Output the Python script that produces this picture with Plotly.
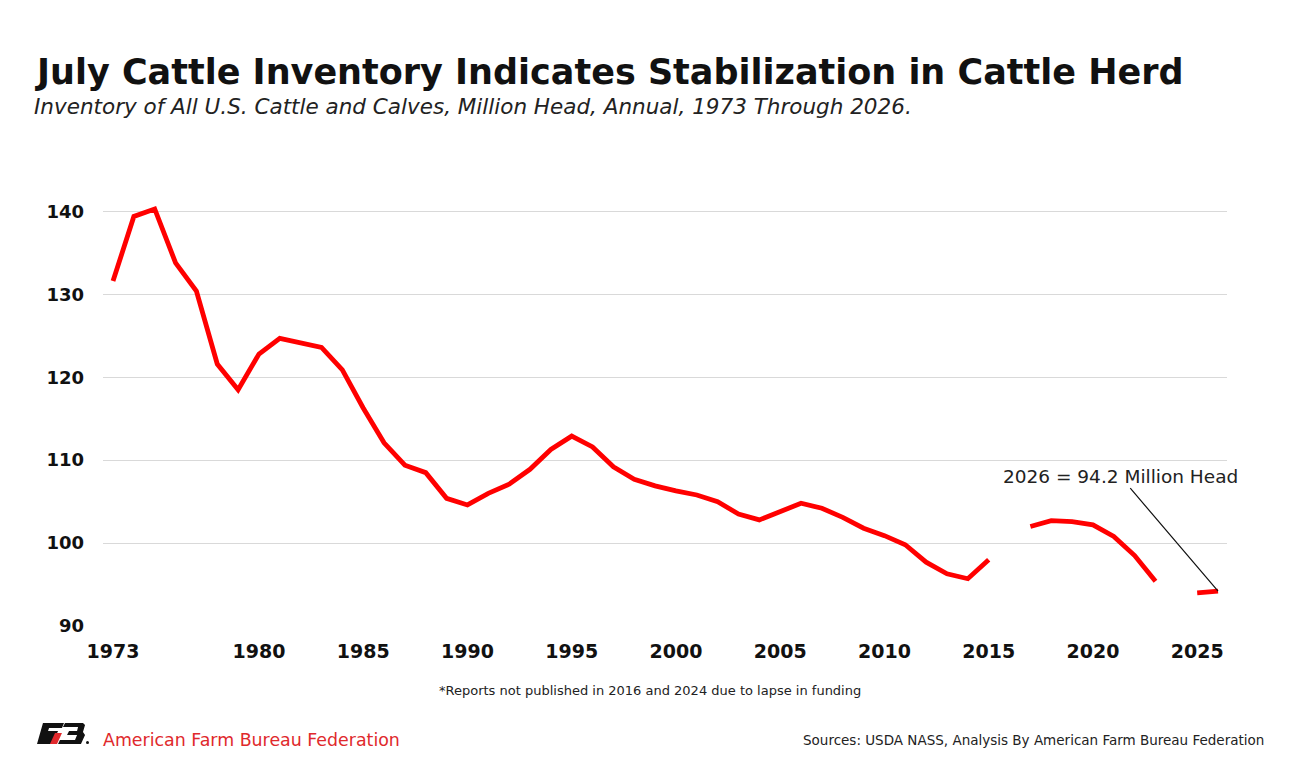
import plotly.graph_objects as go

# Inventário de julho, milhões de cabeças (2016 e 2024 sem relatório)
anos = list(range(1973, 2027))
inventario = [
    131.6, 139.4, 140.3, 133.8, 130.4, 121.6, 118.5, 122.8, 124.7, 124.1,
    123.6, 120.9, 116.3, 112.1, 109.4, 108.5, 105.4, 104.6, 106.0, 107.1,
    108.9, 111.3, 112.9, 111.6, 109.2, 107.7, 106.9, 106.3, 105.8, 105.0,
    103.5, 102.8, 103.8, 104.8, 104.2, 103.1, 101.8, 100.9, 99.8, 97.7,
    96.3, 95.7, 98.0, None, 102.0, 102.7, 102.6, 102.2, 100.8, 98.5,
    95.4, None, 94.0, 94.2,
]
ticks_x = [1973, 1980, 1985, 1990, 1995, 2000, 2005, 2010, 2015, 2020, 2025]
ticks_y = [90, 100, 110, 120, 130, 140]

# a página tem margem de 8px no body
OX, OY = 8, 8
W, H = 1294 - OX, 784 - OY
L, R, T, B = 103 - OX, 67, 170 - OY, 158


def px(x):
    return (x - OX - L) / (W - L - R)


def py(y):
    return (H - B - (y - OY)) / (H - T - B)


fig = go.Figure()

fig.add_trace(go.Scatter(
    x=anos, y=inventario,
    mode="lines",
    line=dict(color="#ff0000", width=4.8),
    connectgaps=False,
    hoverinfo="x+y",
    showlegend=False,
))

# Nota de 2026
fig.add_annotation(
    x=anos[-1], y=inventario[-1],
    text="2026 = 94.2 Million Head",
    showarrow=True, arrowhead=0, arrowwidth=1.2, arrowcolor="#111111",
    ax=-98, ay=-115,
    font=dict(family="DejaVu Sans", size=18.5, color="#222222"),
)

# Títulos e rodapé
textos = [
    dict(x=px(33), y=py(72), text="<b>July Cattle Inventory Indicates Stabilization in Cattle Herd</b>",
         size=35, color="#111111", xanchor="left"),
    dict(x=px(32), y=py(106), text="<i>Inventory of All U.S. Cattle and Calves, Million Head, Annual, 1973 Through 2026.</i>",
         size=21.5, color="#222222", xanchor="left"),
    dict(x=px(650), y=py(690), text="*Reports not published in 2016 and 2024 due to lapse in funding",
         size=13, color="#222222", xanchor="center"),
    dict(x=px(1266), y=py(740), text="Sources: USDA NASS, Analysis By American Farm Bureau Federation",
         size=13.5, color="#222222", xanchor="right"),
    dict(x=px(101), y=py(740), text="American Farm Bureau Federation",
         size=17.4, color="#e0292c", xanchor="left"),
]
for t in textos:
    fig.add_annotation(
        x=t["x"], y=t["y"], xref="paper", yref="paper",
        text=t["text"], showarrow=False,
        xanchor=t["xanchor"], yanchor="middle",
        font=dict(family="DejaVu Sans", size=t["size"], color=t["color"]),
    )


def caminho(pontos):
    return "M " + " L ".join(f"{px(a):.4f},{py(b):.4f}" for a, b in pontos) + " Z"


# Logo FB simplificado
fig.add_shape(type="path", xref="paper", yref="paper", line_width=0, fillcolor="#111111",
              path=caminho([(43, 723), (64, 723), (62, 728), (49, 728), (48, 731), (58, 731),
                            (52, 744), (37, 744)]))
fig.add_shape(type="path", xref="paper", yref="paper", line_width=0, fillcolor="#e0292c",
              path=caminho([(55, 733), (62, 733), (57, 744), (50, 744)]))
fig.add_shape(type="path", xref="paper", yref="paper", line_width=0, fillcolor="#111111",
              path=caminho([(65, 723), (83, 723), (85, 725), (83, 732), (85, 735), (81, 744),
                            (58, 744), (60, 740), (75, 740), (77, 735), (67, 735), (69, 731),
                            (77, 731), (78, 727), (63, 727)]))
fig.add_shape(type="circle", xref="paper", yref="paper", line_width=0, fillcolor="#111111",
              x0=px(86), x1=px(89), y0=py(744), y1=py(741))

fig.update_layout(
    width=W, height=H,
    margin=dict(l=L, r=R, t=T, b=B),
    paper_bgcolor="white",
    plot_bgcolor="white",
    font=dict(family="DejaVu Sans", color="#111111"),
    xaxis=dict(
        range=[1972.52, 2026.43],
        tickmode="array", tickvals=ticks_x, ticktext=[f"<b>{v}</b>" for v in ticks_x],
        tickfont=dict(size=19, color="#111111"),
        showgrid=False, zeroline=False, showline=False, ticks="",
        ticklabelstandoff=12,
    ),
    yaxis=dict(
        range=[90, 145],
        tickmode="array", tickvals=ticks_y, ticktext=[f"<b>{v}</b>" for v in ticks_y],
        tickfont=dict(size=18, color="#111111"),
        showgrid=True, gridcolor="#d9d9d9", gridwidth=1,
        zeroline=False, showline=False, ticks="", ticklabelstandoff=18,
    ),
)

fig.write_html("out.html")
